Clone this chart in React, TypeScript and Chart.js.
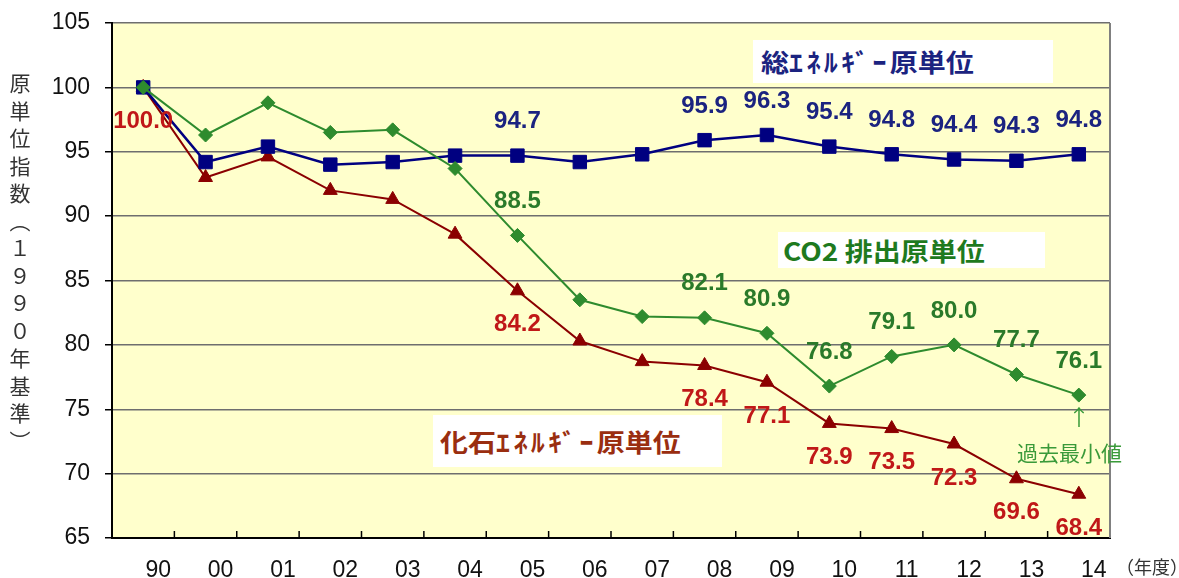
import React, { useEffect, useRef } from 'react';
import { Chart, registerables } from 'chart.js';

Chart.register(...registerables);

const categories = ['90', '00', '01', '02', '03', '04', '05', '06', '07', '08', '09', '10', '11', '12', '13', '14'];
const totalEnergy = [100.0, 94.2, 95.4, 94.0, 94.2, 94.7, 94.7, 94.2, 94.8, 95.9, 96.3, 95.4, 94.8, 94.4, 94.3, 94.8];
const co2Emission = [100.0, 96.3, 98.8, 96.5, 96.7, 93.7, 88.5, 83.5, 82.2, 82.1, 80.9, 76.8, 79.1, 80.0, 77.7, 76.1];
const fossilEnergy = [100.0, 93.0, 94.6, 92.0, 91.3, 88.6, 84.2, 80.3, 78.7, 78.4, 77.1, 73.9, 73.5, 72.3, 69.6, 68.4];
const totalLabelIdx = [6, 9, 10, 11, 12, 13, 14, 15];
const co2LabelIdx = [6, 9, 10, 11, 12, 13, 14, 15];
const fossilLabelIdx = [0, 6, 9, 10, 11, 12, 13, 14, 15];
const yMin = 65;
const yMax = 105;
const yStep = 5;

const BLUE = '#000080';
const GREEN = '#2E8B2E';
const RED = '#8B0000';
const BLUE_TXT = '#1B2380';
const GREEN_TXT = '#2A7A2A';
const RED_TXT = '#C01818';
const FONT = '"Liberation Sans", Arial, sans-serif';
const JFONT = '"Noto Sans CJK JP", "Noto Sans", sans-serif';

const labelCfg = [
  { idx: co2LabelIdx, color: GREEN_TXT, dir: -1 },
  { idx: totalLabelIdx, color: BLUE_TXT, dir: -1 },
  { idx: fossilLabelIdx, color: RED_TXT, dir: 1 },
];

const bgPlugin = {
  id: 'plotBg',
  beforeDraw(chart: any) {
    const { ctx, chartArea: a } = chart;
    ctx.save();
    ctx.fillStyle = '#FFFFCC';
    ctx.fillRect(a.left, a.top, a.right - a.left, a.bottom - a.top);
    ctx.restore();
  },
  afterDraw(chart: any) {
    const { ctx, chartArea: a } = chart;
    const xs = chart.scales.x;
    ctx.save();
    ctx.strokeStyle = '#808080';
    ctx.lineWidth = 2;
    ctx.beginPath();
    ctx.moveTo(a.right, a.top);
    ctx.lineTo(a.right, a.bottom);
    ctx.stroke();
    ctx.strokeStyle = '#000';
    ctx.lineWidth = 1.5;
    for (let k = 1; k < categories.length; k++) {
      const x = (xs.getPixelForTick(k - 1) + xs.getPixelForTick(k)) / 2;
      ctx.beginPath();
      ctx.moveTo(x, a.bottom);
      ctx.lineTo(x, a.bottom - 7);
      ctx.stroke();
    }
    ctx.restore();
  },
};

const labelPlugin = {
  id: 'valueLabels',
  afterDatasetsDraw(chart: any) {
    const { ctx } = chart;
    ctx.save();
    ctx.font = `bold 24px ${FONT}`;
    ctx.textAlign = 'center';
    ctx.textBaseline = 'middle';
    labelCfg.forEach((cfg, di) => {
      const meta = chart.getDatasetMeta(di);
      const data = chart.data.datasets[di].data as number[];
      ctx.fillStyle = cfg.color;
      cfg.idx.forEach((i) => {
        const pt = meta.data[i];
        if (!pt) return;
        ctx.fillText(data[i].toFixed(1), pt.x, pt.y + cfg.dir * 34);
      });
    });
    ctx.restore();
  },
};

export default function App() {
  const canvasRef = useRef<HTMLCanvasElement | null>(null);

  useEffect(() => {
    const canvas = canvasRef.current;
    if (!canvas) return;
    const chart = new Chart(canvas, {
      type: 'line',
      data: {
        labels: categories,
        datasets: [
          {
            label: 'CO2排出原単位',
            data: co2Emission,
            borderColor: GREEN,
            backgroundColor: GREEN,
            borderWidth: 2,
            pointStyle: 'rectRot',
            pointRadius: 7,
            pointBorderWidth: 1,
            pointBackgroundColor: GREEN,
            pointBorderColor: GREEN,
            tension: 0,
          },
          {
            label: '総エネルギー原単位',
            data: totalEnergy,
            borderColor: BLUE,
            backgroundColor: BLUE,
            borderWidth: 2.5,
            pointStyle: 'rect',
            pointRadius: 9.5,
            pointBorderWidth: 1,
            pointBackgroundColor: BLUE,
            pointBorderColor: BLUE,
            tension: 0,
          },
          {
            label: '化石エネルギー原単位',
            data: fossilEnergy,
            borderColor: RED,
            backgroundColor: RED,
            borderWidth: 2,
            pointStyle: 'triangle',
            pointRadius: 8,
            pointBorderWidth: 1,
            pointBackgroundColor: RED,
            pointBorderColor: RED,
            tension: 0,
          },
        ],
      },
      options: {
        animation: false,
        responsive: false,
        devicePixelRatio: 1,
        layout: { padding: { top: 23, right: 69, bottom: 0, left: 0 } },
        plugins: {
          legend: { display: false },
          title: { display: false },
          tooltip: { enabled: false },
        },
        scales: {
          x: {
            type: 'category',
            offset: true,
            grid: { display: true, offset: true, drawOnChartArea: false, drawTicks: false },
            border: { display: true, color: '#000', width: 2 },
            ticks: {
              color: '#111',
              font: { family: FONT, size: 23 },
              padding: 19,
              labelOffset: 15,
              maxRotation: 0,
              autoSkip: false,
            },
            afterFit: (scale: any) => {
              scale.height = 40;
            },
          },
          y: {
            min: yMin,
            max: yMax,
            grid: {
              color: '#6E6E6E',
              lineWidth: 1.5,
              drawTicks: true,
              tickLength: 7,
              tickColor: '#000',
            },
            border: { display: true, color: '#000', width: 2 },
            ticks: {
              stepSize: yStep,
              color: '#111',
              font: { family: FONT, size: 23, lineHeight: 0.5 },
              padding: 15,
            },
            afterFit: (scale: any) => {
              scale.width = 112;
            },
          },
        },
      },
      plugins: [bgPlugin, labelPlugin],
    });
    return () => chart.destroy();
  }, []);

  const boxStyle: React.CSSProperties = {
    position: 'absolute',
    background: '#FFFFFF',
    display: 'flex',
    alignItems: 'center',
    boxSizing: 'border-box',
  };
  const annText = (color: string): React.CSSProperties => ({
    fontFamily: JFONT,
    fontWeight: 700,
    fontSize: 25,
    color,
    whiteSpace: 'nowrap',
    display: 'inline-block',
    transform: 'scaleX(1.12)',
    transformOrigin: 'left center',
    lineHeight: 1,
  });
  const kana: React.CSSProperties = { letterSpacing: 3 };

  return (
    <div style={{ position: 'fixed', left: 0, top: 0, width: 1179, height: 578, background: '#fff', overflow: 'hidden' }}>
      <canvas ref={canvasRef} width={1179} height={578} style={{ position: 'absolute', left: 0, top: 0, width: 1179, height: 578 }} />
      <div
        style={{
          position: 'absolute',
          left: 9,
          top: 73,
          writingMode: 'vertical-rl',
          textOrientation: 'upright',
          fontFamily: JFONT,
          fontSize: 21,
          letterSpacing: 6.5,
          color: '#333',
          lineHeight: 1,
        }}
      >
        原単位指数（１９９０年基準）
      </div>
      <div style={{ ...boxStyle, left: 753, top: 40, width: 300, height: 43, paddingLeft: 8 }}>
        <span style={annText('#1B2380')}>総<span style={kana}>ｴﾈﾙｷﾞｰ</span>原単位</span>
      </div>
      <div style={{ ...boxStyle, left: 778, top: 232, width: 267, height: 36, paddingLeft: 5 }}>
        <span style={annText('#1E7A1E')}>CO2 排出原単位</span>
      </div>
      <div style={{ ...boxStyle, left: 433, top: 415, width: 289, height: 52, paddingLeft: 7 }}>
        <span style={annText('#9A2E10')}>化石<span style={kana}>ｴﾈﾙｷﾞｰ</span>原単位</span>
      </div>
      <div style={{ position: 'absolute', left: 1068, top: 404, fontFamily: JFONT, fontSize: 22, color: '#3A9A3A', lineHeight: 1 }}>↑</div>
      <div style={{ position: 'absolute', left: 1017, top: 442, fontFamily: JFONT, fontSize: 21, color: '#3A9A3A', lineHeight: 1, whiteSpace: 'nowrap' }}>
        過去最小値
      </div>
      <div style={{ position: 'absolute', left: 1116, top: 557, fontFamily: JFONT, fontSize: 18, color: '#333', lineHeight: 1, whiteSpace: 'nowrap' }}>
        （年度）
      </div>
    </div>
  );
}
